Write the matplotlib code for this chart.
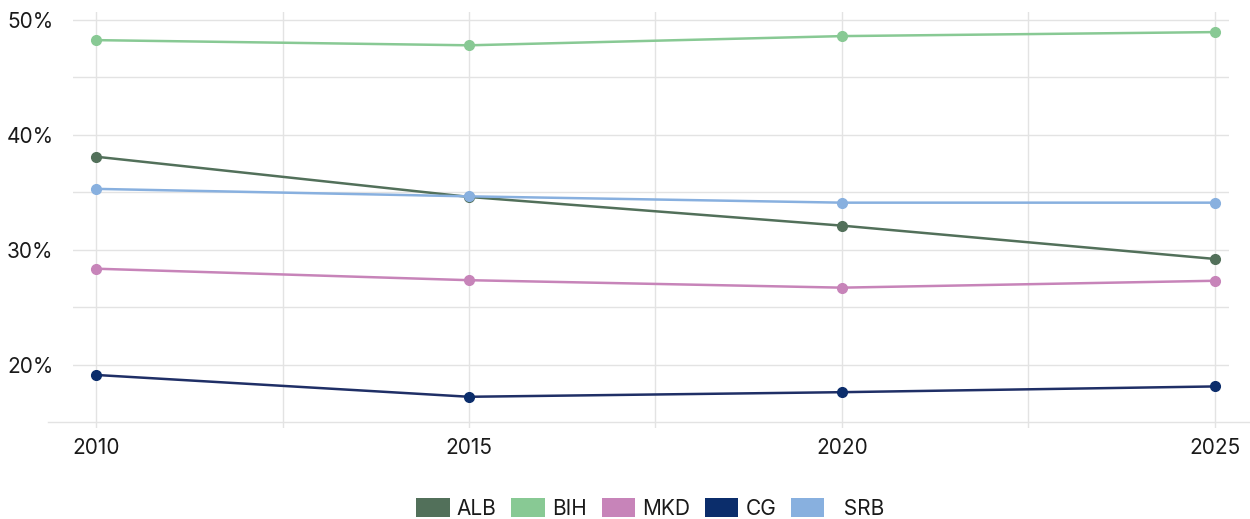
import matplotlib.pyplot as plt
from matplotlib.lines import Line2D
from matplotlib.patches import Patch
from matplotlib.ticker import FixedLocator, FuncFormatter

plt.rcParams['font.family'] = ['Inter', 'DejaVu Sans']

# data (share in %)
years = [2010, 2015, 2020, 2025]
countries = ['ALB', 'BIH', 'MKD', 'CG', 'SRB']
alb = [38.1, 34.6, 32.1, 29.2]
bih = [48.25, 47.8, 48.6, 48.95]
mkd = [28.35, 27.35, 26.7, 27.3]
cg = [19.1, 17.2, 17.6, 18.1]
srb = [35.3, 34.65, 34.1, 34.1]
series = [alb, bih, mkd, cg, srb]
colors = ['#52705a', '#88c994', '#c784b9', '#0b2d6b', '#88b0df']
line_colors = ['#52705a', '#88c994', '#c784b9', '#1f2f66', '#88b0df']

fig = plt.figure(figsize=(12.5, 5.19), dpi=100)
ax = fig.add_axes([0.0584, 0.1753, 0.9248, 0.8016])

for vals, c, lc in zip(series, colors, line_colors):
    ax.plot(years, vals, color=lc, lw=1.8, zorder=3)
    ax.plot(years, vals, 'o', color=c, ms=7, zorder=4)

ax.set_xlim(2009.69, 2025.19)
ax.set_ylim(14.48, 50.7)

ax.xaxis.set_major_locator(FixedLocator(years))
ax.xaxis.set_minor_locator(FixedLocator([2012.5, 2017.5, 2022.5]))
ax.yaxis.set_major_locator(FixedLocator([20, 30, 40, 50]))
ax.yaxis.set_minor_locator(FixedLocator([25, 35, 45]))
ax.yaxis.set_major_formatter(FuncFormatter(lambda v, p: f'{v:.0f}%'))

ax.grid(True, which='both', color='#e3e3e3', lw=1)
ax.set_axisbelow(True)
ax.tick_params(which='both', length=0, labelsize=15, colors='#1a1a1a')
ax.tick_params(axis='y', pad=14)
ax.tick_params(axis='x', pad=7)
for s in ax.spines.values():
    s.set_visible(False)

# baseline at 15%
y15 = ax.transData.transform((2010, 15))[1] / fig.bbox.height
fig.add_artist(Line2D([48 / 1250, 1.0], [y15, y15], color='#e3e3e3', lw=1))

handles = [Patch(facecolor=c, edgecolor='none') for c in colors]
labels = ['ALB', 'BIH', 'MKD', 'CG', '  SRB']
fig.legend(handles, labels, loc='center', bbox_to_anchor=(0.52, 0.021),
           ncol=5, frameon=False, fontsize=15, handlelength=1.6,
           handleheight=1.06, handletextpad=0.34, columnspacing=0.72,
           borderpad=0, labelcolor='#1a1a1a')

fig.savefig('out.png', dpi=100)
